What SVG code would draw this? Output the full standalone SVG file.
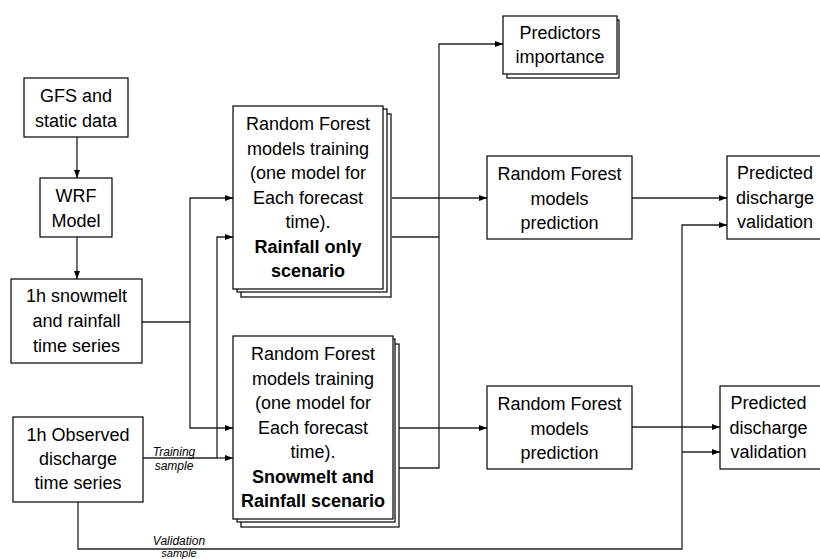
<svg xmlns="http://www.w3.org/2000/svg" width="820" height="559" viewBox="0 0 820 559">
<defs>
<marker id="arr" viewBox="0 0 8 6" refX="8" refY="3" markerWidth="8" markerHeight="6" markerUnits="userSpaceOnUse" orient="auto">
<path d="M0,0 L8,3 L0,6 z" fill="#000"/>
</marker>
<style>
.box{fill:#fff;stroke:#000;stroke-width:1.2}
.t{font-family:"Liberation Sans",Arial,sans-serif;font-size:18px;fill:#000;text-anchor:middle}
.b{font-weight:bold}
.s{font-family:"Liberation Sans",Arial,sans-serif;font-size:12px;font-style:italic;fill:#000;text-anchor:middle}
.c{fill:none;stroke:#222;stroke-width:1.3}
.ca{fill:none;stroke:#222;stroke-width:1.3;marker-end:url(#arr)}
</style>
</defs>
<rect width="820" height="559" fill="#fff"/>
<g id="connectors">
<path class="ca" d="M77,137 V178"/>
<path class="ca" d="M77,237 V279"/>
<path class="ca" d="M142,322 H190 V198 H233"/>
<path class="ca" d="M190,322 V428 H233"/>
<path class="ca" d="M143,458 H217 V237 H233"/>
<path class="ca" d="M217,458 H233"/>
<path class="ca" d="M392,198 H487"/>
<path class="c" d="M392,237 H439"/>
<path class="ca" d="M399,468 H439 V44 H503"/>
<path class="ca" d="M399,428 H487"/>
<path class="ca" d="M632,198 H727"/>
<path class="ca" d="M632,427 H720"/>
<path class="ca" d="M78,502 V549 H682 V225 H727"/>
<path class="ca" d="M682,452 H720"/>
<text class="s" x="174" y="456">Training</text>
<text class="s" x="174" y="470">sample</text>
<text class="s" x="179" y="545">Validation</text>
<text class="s" x="179" y="557" style="font-size:11px">sample</text>
</g>
<g id="gfs">
<rect class="box" x="24" y="78" width="104" height="59"/>
<text class="t" x="76" y="102">GFS and</text>
<text class="t" x="76" y="127">static data</text>
</g>
<g id="wrf">
<rect class="box" x="40" y="178" width="72" height="59"/>
<text class="t" x="76" y="202">WRF</text>
<text class="t" x="76" y="227">Model</text>
</g>
<g id="snowmelt">
<rect class="box" x="11" y="279" width="131" height="84"/>
<text class="t" x="76.5" y="302">1h snowmelt</text>
<text class="t" x="76.5" y="327">and rainfall</text>
<text class="t" x="76.5" y="352">time series</text>
</g>
<g id="observed">
<rect class="box" x="13" y="417" width="130" height="85"/>
<text class="t" x="78" y="441">1h Observed</text>
<text class="t" x="78" y="465">discharge</text>
<text class="t" x="78" y="489">time series</text>
</g>
<g id="rf-train-rain">
<rect class="box" x="241" y="114" width="150" height="183"/>
<rect class="box" x="237" y="109" width="150" height="183"/>
<rect class="box" x="233" y="106" width="150" height="183"/>
<text class="t" x="308" y="130">Random Forest</text>
<text class="t" x="308" y="154.5">models training</text>
<text class="t" x="308" y="179">(one model for</text>
<text class="t" x="308" y="203.5">Each forecast</text>
<text class="t" x="308" y="228">time).</text>
<text class="t b" x="308" y="252.5">Rainfall only</text>
<text class="t b" x="308" y="277">scenario</text>
</g>
<g id="rf-train-snow">
<rect class="box" x="241" y="344" width="158" height="183"/>
<rect class="box" x="237" y="339" width="158" height="183"/>
<rect class="box" x="233" y="336" width="160" height="183"/>
<text class="t" x="313" y="360">Random Forest</text>
<text class="t" x="313" y="384.5">models training</text>
<text class="t" x="313" y="409">(one model for</text>
<text class="t" x="313" y="433.5">Each forecast</text>
<text class="t" x="313" y="458">time).</text>
<text class="t b" x="313" y="482.5">Snowmelt and</text>
<text class="t b" x="313" y="507">Rainfall scenario</text>
</g>
<g id="predictors">
<rect class="box" x="507" y="20" width="112" height="58"/>
<rect class="box" x="503" y="16" width="114" height="58"/>
<text class="t" x="560" y="39">Predictors</text>
<text class="t" x="560" y="63">importance</text>
</g>
<g id="rf-pred-top">
<rect class="box" x="487" y="156" width="145" height="83"/>
<text class="t" x="559.5" y="180">Random Forest</text>
<text class="t" x="559.5" y="204.5">models</text>
<text class="t" x="559.5" y="229">prediction</text>
</g>
<g id="rf-pred-bottom">
<rect class="box" x="487" y="386" width="145" height="83"/>
<text class="t" x="559.5" y="410">Random Forest</text>
<text class="t" x="559.5" y="434.5">models</text>
<text class="t" x="559.5" y="459">prediction</text>
</g>
<g id="validation-top">
<rect class="box" x="727" y="156" width="100" height="83"/>
<text class="t" x="775" y="179">Predicted</text>
<text class="t" x="775" y="203.5">discharge</text>
<text class="t" x="775" y="228">validation</text>
</g>
<g id="validation-bottom">
<rect class="box" x="720" y="386" width="105" height="83"/>
<text class="t" x="768.5" y="409">Predicted</text>
<text class="t" x="768.5" y="433.5">discharge</text>
<text class="t" x="768.5" y="458">validation</text>
</g>
</svg>
